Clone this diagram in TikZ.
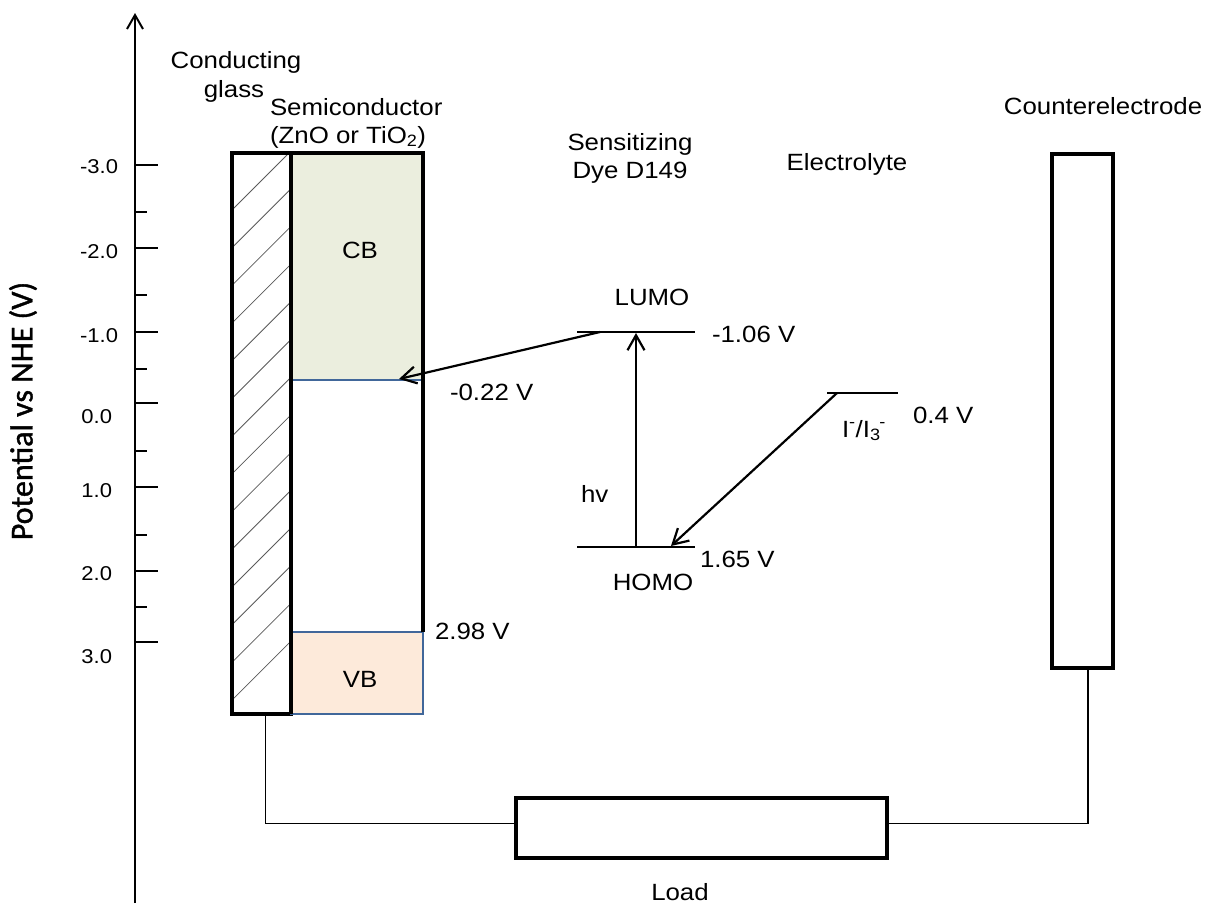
\documentclass[tikz,border=0pt]{standalone}
\usepackage{fontspec}
\setmainfont{Liberation Sans}[FakeStretch=1.1]
\newfontfamily\axisfont{Carlito}[FakeBold=1.2]
\usetikzlibrary{arrows.meta}
\definecolor{cbfill}{HTML}{EBEEDE}
\definecolor{vbfill}{HTML}{FDEADA}
\definecolor{vbline}{HTML}{41679A}
\definecolor{hatchgray}{HTML}{5A5A5A}
\begin{document}
\begin{tikzpicture}[x=1pt,y=-1pt,
  every node/.style={inner sep=0pt,outer sep=0pt},
  txt/.style={font=\fontsize{23.5}{28}\selectfont},
  ticklab/.style={font=\fontsize{20}{24}\selectfont,anchor=base east},
  boxe/.style={draw=black,line width=3.5pt,fill=white,minimum width=#1},
  level/.style={line width=2.4pt},
  wire/.style={line width=1.6pt},
  barb/.style={line width=2.2pt,-{Straight Barb[length=15pt,width=17pt,line width=2.2pt]}},
  tickmaj/.style={line width=2pt},
  hatchline/.style={draw=hatchgray,line width=0.8pt}]
\useasboundingbox (0,0) rectangle (1213,903);

% axis
\coordinate (axbot) at (135,903);
\coordinate (axtop) at (135,13);
\draw[line width=2pt,-{Straight Barb[length=14pt,width=16pt,line width=2pt]}] (axbot) -- (axtop);
\foreach \y in {165,248,332,403,487,571,642} \draw[tickmaj] (135,\y) -- (158,\y);
\foreach \y in {212,295,369,451,535,607} \draw[tickmaj] (135,\y) -- (147,\y);
\node[ticklab] (t1) at (118,173) {-3.0};
\node[ticklab] (t2) at (118,258) {-2.0};
\node[ticklab] (t3) at (118,342) {-1.0};
\node[ticklab] (t4) at (112,423) {0.0};
\node[ticklab] (t5) at (112,497) {1.0};
\node[ticklab] (t6) at (112,580) {2.0};
\node[ticklab] (t7) at (112,663) {3.0};
\node[rotate=90,font=\axisfont\fontsize{32}{36}\selectfont] (ylab) at (23,411) {Potential vs NHE (V)};

% conducting glass
\node[boxe=59pt,minimum height=561pt] (glass) at (261.5,433.5) {};
\begin{scope}
  \clip (232,153) rectangle (291,714);
  \foreach \k in {0,...,13} \draw[hatchline] (232,210+37.7*\k) -- ++(59,-59);
\end{scope}
\draw[line width=3.5pt] (glass.north west) rectangle (glass.south east);

% semiconductor
\node[fill=cbfill,minimum width=132pt,minimum height=227pt] (cb) at (357,266.5) {};
\node[fill=vbfill,draw=vbline,line width=2.6pt,minimum width=132pt,minimum height=82pt] (vb) at (357,673) {};
\draw[draw=vbline,line width=1.6pt] (cb.south west) -- (cb.south east);
\draw[line width=3.5pt,line join=miter] (vb.north east) -- (423,153) -- (291,153) -- (291,714);
\node[txt,anchor=base] (cblab) at (360,258) {CB};
\node[txt,anchor=base] (vblab) at (360,687) {VB};

% counterelectrode and load
\node[boxe=61pt,minimum height=514pt] (counter) at (1082.5,411) {};
\node[boxe=371pt,minimum height=60pt] (load) at (701.5,828) {};
\draw[wire] ([xshift=4pt]glass.south) |- ([yshift=4.5pt]load.west);
\draw[wire] ([yshift=4.5pt]load.east) -| ([xshift=5.5pt]counter.south);

% dye levels
\coordinate (lumoL) at (577,332);
\coordinate (lumoR) at (695,332);
\coordinate (homoL) at (577,547);
\coordinate (homoR) at (695,547);
\coordinate (elL) at (827,393);
\coordinate (elR) at (898,393);
\draw[level] (lumoL) -- (lumoR);
\draw[level] (homoL) -- (homoR);
\draw[level] (elL) -- (elR);
\coordinate (lumoA) at (600,332);
\coordinate (cbA) at (399,379);
\coordinate (hvBot) at (636,547);
\coordinate (hvTop) at (636,333);
\coordinate (elA) at (837,393);
\coordinate (homoA) at (671,546);
\draw[barb] (lumoA) -- (cbA);
\draw[barb] (hvBot) -- (hvTop);
\draw[barb] (elA) -- (homoA);

% labels
\node[txt,anchor=base] (cg1) at (236,68) {Conducting};
\node[txt,anchor=base] (cg2) at (234,97) {glass};
\node[txt,anchor=base west] (sc1) at (270,115) {Semiconductor};
\node[txt,anchor=base west] (sc2) at (270,143) {(ZnO or TiO\textsubscript{2})};
\node[txt,anchor=base] (sd1) at (630,150) {Sensitizing};
\node[txt,anchor=base] (sd2) at (630,178) {Dye D149};
\node[txt,anchor=base] (ely) at (847,170) {Electrolyte};
\node[txt,anchor=base] (ctr) at (1103,114) {Counterelectrode};
\node[txt,anchor=base] (loadlab) at (680,900) {Load};
\node[txt,anchor=base] (lumo) at (652,305) {LUMO};
\node[txt,anchor=base] (homo) at (653,590) {HOMO};
\node[txt,anchor=base west] (v106) at (712,342) {-1.06 V};
\node[txt,anchor=base west] (v165) at (700,567) {1.65 V};
\node[txt,anchor=base west] (v022) at (450,400) {-0.22 V};
\node[txt,anchor=base west] (v298) at (435,639) {2.98 V};
\node[txt,anchor=base west] (v04) at (913,423) {0.4 V};
\node[txt,anchor=base west] (hv) at (581,502) {hv};
\node[txt,anchor=base west] (redox) at (842,437) {I\textsuperscript{-}/I\textsubscript{3}\kern-0.05em\textsuperscript{-}};
\end{tikzpicture}
\end{document}
